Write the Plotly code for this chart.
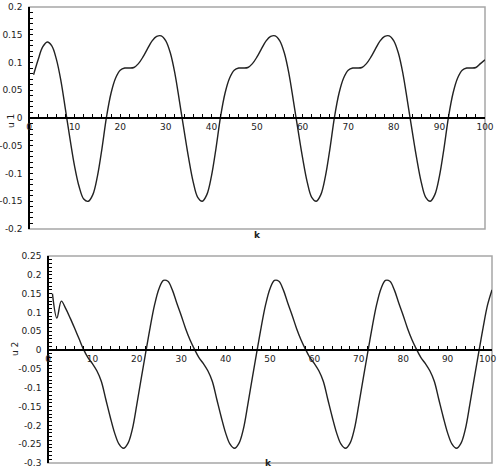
import plotly.graph_objects as go

# ---- data ----
k = list(range(1, 101))

u1 = [0.078, 0.105, 0.128, 0.137, 0.130, 0.106, 0.067, 0.015, -0.038, -0.087,
      -0.124, -0.146, -0.150, -0.138, -0.105, -0.055, 0.002, 0.045, 0.072, 0.086,
      0.090, 0.090, 0.091, 0.098, 0.110, 0.125, 0.139, 0.147, 0.148, 0.139,
      0.117, 0.080, 0.030, -0.022, -0.072, -0.115, -0.143, -0.150, -0.138, -0.105,
      -0.055, 0.002, 0.045, 0.072, 0.086, 0.090, 0.090, 0.091, 0.098, 0.110,
      0.125, 0.139, 0.147, 0.148, 0.139, 0.117, 0.080, 0.030, -0.022, -0.072,
      -0.115, -0.143, -0.150, -0.138, -0.105, -0.055, 0.002, 0.045, 0.072, 0.086,
      0.090, 0.090, 0.091, 0.098, 0.110, 0.125, 0.139, 0.147, 0.148, 0.139,
      0.117, 0.080, 0.030, -0.022, -0.072, -0.115, -0.143, -0.150, -0.138, -0.105,
      -0.055, 0.002, 0.045, 0.072, 0.086, 0.090, 0.090, 0.091, 0.098, 0.105]

u2 = [0.150, 0.085, 0.130, 0.110, 0.085, 0.058, 0.030, 0.002, -0.020, -0.036,
      -0.055, -0.083, -0.130, -0.177, -0.220, -0.250, -0.261, -0.248, -0.210, -0.145,
      -0.075, -0.007, 0.060, 0.120, 0.163, 0.185, 0.183, 0.160, 0.125, 0.092,
      0.057, 0.027, 0.002, -0.020, -0.036, -0.055, -0.083, -0.130, -0.177, -0.220,
      -0.250, -0.261, -0.248, -0.210, -0.145, -0.075, -0.007, 0.060, 0.120, 0.163,
      0.185, 0.183, 0.160, 0.125, 0.092, 0.057, 0.027, 0.002, -0.020, -0.036,
      -0.055, -0.083, -0.130, -0.177, -0.220, -0.250, -0.261, -0.248, -0.210, -0.145,
      -0.075, -0.007, 0.060, 0.120, 0.163, 0.185, 0.183, 0.160, 0.125, 0.092,
      0.057, 0.027, 0.002, -0.020, -0.036, -0.055, -0.083, -0.130, -0.177, -0.220,
      -0.250, -0.261, -0.248, -0.210, -0.145, -0.075, -0.007, 0.060, 0.120, 0.160]

x_ticks = [0, 10, 20, 30, 40, 50, 60, 70, 80, 90, 100]
x_ticktext = [str(v) for v in x_ticks]

y1_ticks = [-0.2, -0.15, -0.1, -0.05, 0, 0.05, 0.1, 0.15, 0.2]
y1_ticktext = ["-0.2", "-0.15", "-0.1", "-0.05", "0", "0.05", "0.1", "0.15", "0.2"]
y2_ticks = [-0.3, -0.25, -0.2, -0.15, -0.1, -0.05, 0, 0.05, 0.1, 0.15, 0.2, 0.25]
y2_ticktext = ["-0.3", "-0.25", "-0.2", "-0.15", "-0.1", "-0.05", "0", "0.05",
               "0.1", "0.15", "0.2", "0.25"]

y1_range = [-0.2, 0.2]
y2_range = [-0.3, 0.25]
x_range = [0, 100]

# ---- layout geometry ----
W, H = 498, 476
def px_x(p):
    return p / W
def px_y(p):
    return 1 - p / H

top_x = [px_x(29), px_x(485)]
top_y = [px_y(229), px_y(7)]
bot_x = [px_x(48), px_x(492)]
bot_y = [px_y(463), px_y(256)]

def zero_pos(dom, rng):
    return dom[0] + (0 - rng[0]) / (rng[1] - rng[0]) * (dom[1] - dom[0])

FONT = "DejaVu Sans"
TXT = "#222222"
LINE = "#222222"
GRAY = "#a6a6a6"

fig = go.Figure()
fig.add_trace(go.Scatter(x=k, y=u1, mode="lines", xaxis="x", yaxis="y",
                         line=dict(color=LINE, width=1.4, shape="spline", smoothing=1),
                         showlegend=False, hoverinfo="skip"))
fig.add_trace(go.Scatter(x=k, y=u2, mode="lines", xaxis="x2", yaxis="y2",
                         line=dict(color=LINE, width=1.4, shape="spline", smoothing=1),
                         showlegend=False, hoverinfo="skip"))

def xaxis(dom, ydom, yrng, tv, tt):
    return dict(domain=dom, range=x_range, anchor="free",
                position=zero_pos(ydom, yrng), showgrid=False, zeroline=False,
                showline=True, linecolor="black", linewidth=1.5,
                tickmode="array", tickvals=tv, ticktext=tt,
                ticks="inside", ticklen=3, tickwidth=1, tickcolor="black",
                minor=dict(dtick=2, tick0=0, ticks="inside", ticklen=3,
                           tickwidth=1, tickcolor="black", showgrid=False),
                tickfont=dict(family=FONT, size=9, color=TXT),
                fixedrange=True)

def yaxis(dom, rng, tv, tt, xdom):
    return dict(domain=dom, range=rng, anchor="free", position=xdom[0],
                showgrid=False, zeroline=False,
                showline=True, linecolor="black", linewidth=1.5,
                tickmode="array", tickvals=tv, ticktext=tt,
                ticks="inside", ticklen=3, tickwidth=1, tickcolor="black",
                minor=dict(dtick=0.01, tick0=0, ticks="inside", ticklen=3,
                           tickwidth=1, tickcolor="black", showgrid=False),
                tickfont=dict(family=FONT, size=9, color=TXT),
                ticklabelstandoff=4, fixedrange=True)

# bottom x axis: last label (100) drawn as annotation since it overflows the page edge
xa1 = xaxis(top_x, top_y, y1_range, x_ticks, x_ticktext)
xa2 = xaxis(bot_x, bot_y, y2_range, x_ticks[:-1], x_ticktext[:-1])
ya1 = yaxis(top_y, y1_range, y1_ticks, y1_ticktext, top_x)
ya2 = yaxis(bot_y, y2_range, y2_ticks, y2_ticktext, bot_x)

shapes = [
    dict(type="rect", xref="x domain", yref="y domain", x0=0, x1=1, y0=0, y1=1,
         line=dict(color=GRAY, width=1.5), layer="below"),
    dict(type="rect", xref="x2 domain", yref="y2 domain", x0=0, x1=1, y0=0, y1=1,
         line=dict(color=GRAY, width=1.5), layer="below"),
    # tick mark at x=100 on the bottom axis (label given separately)
]

annotations = [
    dict(text="u 1", x=px_x(4), y=px_y(112), xref="paper", yref="paper",
         textangle=-90, showarrow=False, font=dict(family=FONT, size=9, color=TXT)),
    dict(text="u 2", x=px_x(8), y=px_y(358), xref="paper", yref="paper",
         textangle=-90, showarrow=False, font=dict(family=FONT, size=9, color=TXT)),
    dict(text="<b>k</b>", x=px_x(257), y=px_y(235), xref="paper", yref="paper",
         showarrow=False, font=dict(family=FONT, size=9, color=TXT)),
    dict(text="<b>k</b>", x=px_x(268), y=px_y(470), xref="paper", yref="paper",
         showarrow=False, font=dict(family=FONT, size=9, color=TXT)),
    dict(text=x_ticktext[-1], x=1.0, xanchor="right",
         y=zero_pos(bot_y, y2_range) - 9 / H, yanchor="middle",
         xref="paper", yref="paper", showarrow=False,
         font=dict(family=FONT, size=9, color=TXT)),
]

fig.update_layout(
    width=W, height=H, margin=dict(l=0, r=0, t=0, b=0, autoexpand=False),
    paper_bgcolor="white", plot_bgcolor="white",
    xaxis=xa1, yaxis=ya1, xaxis2=xa2, yaxis2=ya2,
    shapes=shapes, annotations=annotations, showlegend=False,
)

fig.write_html("out.html", config={"displayModeBar": False})
